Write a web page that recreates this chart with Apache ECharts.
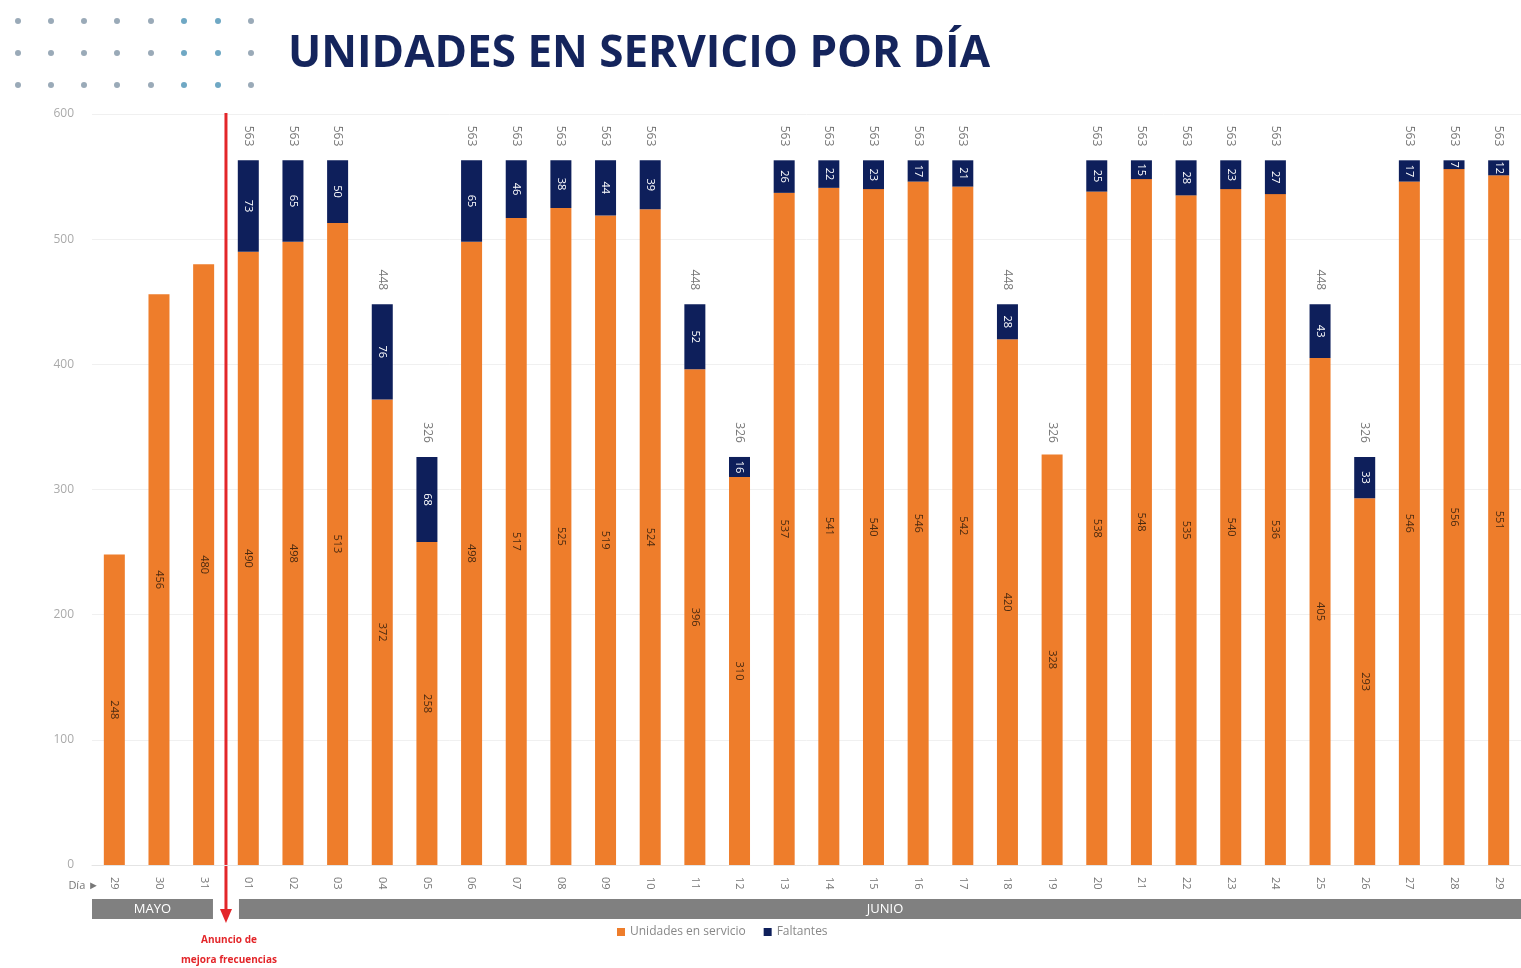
<!DOCTYPE html>
<html>
<head>
<meta charset="utf-8">
<title>Unidades en servicio por día</title>
<script src="https://cdn.jsdelivr.net/npm/echarts@6/dist/echarts.min.js"></script>
<style>
  html, body { margin: 0; padding: 0; background: #fff; }
  #main { width: 1521px; height: 968px; }
</style>
</head>
<body>
<div id="main"></div>
<script>
// dias del eje (29-31 mayo, 01-29 junio)
const dias = ['29', '30', '31', '01', '02', '03', '04', '05', '06', '07', '08', '09', '10', '11', '12', '13',
  '14', '15', '16', '17', '18', '19', '20', '21', '22', '23', '24', '25', '26', '27', '28', '29'];
const meses = ['MAYO', 'MAYO', 'MAYO', 'JUNIO', 'JUNIO', 'JUNIO', 'JUNIO', 'JUNIO', 'JUNIO', 'JUNIO', 'JUNIO',
  'JUNIO', 'JUNIO', 'JUNIO', 'JUNIO', 'JUNIO', 'JUNIO', 'JUNIO', 'JUNIO', 'JUNIO', 'JUNIO', 'JUNIO', 'JUNIO',
  'JUNIO', 'JUNIO', 'JUNIO', 'JUNIO', 'JUNIO', 'JUNIO', 'JUNIO', 'JUNIO', 'JUNIO'];
const enServicio = [248, 456, 480, 490, 498, 513, 372, 258, 498, 517, 525, 519, 524, 396, 310, 537,
  541, 540, 546, 542, 420, 328, 538, 548, 535, 540, 536, 405, 293, 546, 556, 551];
const faltantes = [0, 0, 0, 73, 65, 50, 76, 68, 65, 46, 38, 44, 39, 52, 16, 26,
  22, 23, 17, 21, 28, 0, 25, 15, 28, 23, 27, 43, 33, 17, 7, 12];
const programadas = [null, null, null, 563, 563, 563, 448, 326, 563, 563, 563, 563, 563, 448, 326, 563,
  563, 563, 563, 563, 448, 326, 563, 563, 563, 563, 563, 448, 326, 563, 563, 563];
const yTicks = [0, 100, 200, 300, 400, 500, 600];

const ORANGE = '#EE7D2B';
const NAVY = '#0E1F5B';

const chartDom = document.getElementById('main');
const myChart = echarts.init(chartDom);

const option = {
  animation: false,
  backgroundColor: '#fff',
  title: {
    text: 'UNIDADES EN SERVICIO POR DÍA',
    left: 283,
    top: 27,
    textStyle: { fontFamily: 'Open Sans', fontWeight: 'bold', fontSize: 44, color: '#14245C' }
  },
  legend: {
    data: ['Unidades en servicio', 'Faltantes'],
    left: 612,
    top: 921,
    itemWidth: 8,
    itemHeight: 8,
    itemGap: 18,
    icon: 'rect',
    textStyle: { fontFamily: 'Open Sans', fontSize: 12, color: '#888' }
  },
  grid: { left: 92, top: 114, width: 1437, bottom: 103 },
  xAxis: {
    type: 'category',
    data: dias,
    axisLine: { lineStyle: { color: '#e4e4e4' } },
    axisTick: { show: false },
    axisLabel: { rotate: -90, fontSize: 11, color: '#777', margin: 12, fontFamily: 'Open Sans' }
  },
  yAxis: {
    type: 'value',
    min: yTicks[0],
    max: yTicks[yTicks.length - 1],
    interval: 100,
    axisLabel: { fontSize: 12, color: '#aaa', margin: 18, fontFamily: 'Open Sans' },
    splitLine: { lineStyle: { color: '#f0f0f0' } },
    axisLine: { show: false },
    axisTick: { show: false }
  },
  series: [
    {
      name: 'Unidades en servicio',
      type: 'bar',
      stack: 'total',
      barWidth: 21,
      data: enServicio,
      itemStyle: { color: ORANGE },
      label: {
        show: true,
        position: 'inside',
        rotate: -90,
        fontSize: 11,
        color: '#4a2a10',
        fontFamily: 'Open Sans'
      }
    },
    {
      name: 'Faltantes',
      type: 'bar',
      stack: 'total',
      barWidth: 21,
      data: faltantes,
      itemStyle: { color: NAVY },
      label: {
        show: true,
        position: 'inside',
        rotate: -90,
        fontSize: 11,
        color: '#fff',
        fontFamily: 'Open Sans',
        formatter: p => (p.value > 0 ? p.value : '')
      }
    },
    {
      name: 'Programadas',
      type: 'scatter',
      data: programadas,
      symbolSize: 0.1,
      itemStyle: { color: 'rgba(0,0,0,0)' },
      label: {
        show: true,
        position: 'top',
        distance: 14,
        rotate: -90,
        align: 'right',
        verticalAlign: 'middle',
        fontSize: 12,
        color: '#555',
        fontFamily: 'Open Sans',
        formatter: p => (p.value == null ? '' : p.value)
      }
    }
  ]
};

myChart.setOption(option);

// banda de meses, flecha roja y adornos, a partir de las posiciones del eje
const step = myChart.convertToPixel({ xAxisIndex: 0 }, 1) - myChart.convertToPixel({ xAxisIndex: 0 }, 0);
const xLeft = i => myChart.convertToPixel({ xAxisIndex: 0 }, i) - step / 2;
const yTop = myChart.convertToPixel({ yAxisIndex: 0 }, 600);
const yZero = myChart.convertToPixel({ yAxisIndex: 0 }, 0);

const graphics = [];
const firstJun = meses.indexOf('JUNIO');
const monthRanges = [
  { name: 'MAYO', x0: xLeft(0), x1: xLeft(firstJun) - 13 },
  { name: 'JUNIO', x0: xLeft(firstJun) + 13, x1: xLeft(meses.length) }
];
monthRanges.forEach(m => {
  graphics.push({
    type: 'rect',
    shape: { x: m.x0, y: yZero + 34, width: m.x1 - m.x0, height: 20 },
    style: { fill: '#808080' }
  });
  graphics.push({
    type: 'text',
    x: m.name === 'MAYO' ? (m.x0 + m.x1) / 2 : 885,
    y: yZero + 44,
    style: {
      text: m.name, fill: '#fff', fontSize: 13, fontFamily: 'Open Sans',
      align: 'center', verticalAlign: 'middle'
    }
  });
});

// "Día ►"
graphics.push({
  type: 'text',
  x: 99,
  y: yZero + 21,
  style: { text: 'Día ►', fill: '#777', fontSize: 11, fontFamily: 'Open Sans', align: 'right', verticalAlign: 'middle' }
});

// flecha del anuncio
const xArrow = xLeft(firstJun);
graphics.push({
  type: 'line',
  shape: { x1: xArrow, y1: yTop - 1, x2: xArrow, y2: yZero + 46 },
  style: { stroke: '#E3262A', lineWidth: 3 }
});
graphics.push({
  type: 'polygon',
  shape: { points: [[xArrow - 6, yZero + 44], [xArrow + 6, yZero + 44], [xArrow, yZero + 58]] },
  style: { fill: '#E3262A' }
});
graphics.push({
  type: 'text',
  x: xArrow + 3,
  y: yZero + 85,
  style: {
    text: 'Anuncio de\nmejora frecuencias', fill: '#E3262A', fontSize: 10, fontWeight: 'bold',
    fontFamily: 'Open Sans', align: 'center', verticalAlign: 'middle', lineHeight: 20
  }
});

// puntos decorativos del encabezado
const dotCols = [18, 51, 84, 117, 151, 184, 218, 251];
const dotRows = [21, 53, 85];
dotRows.forEach(cy => {
  dotCols.forEach((cx, j) => {
    graphics.push({
      type: 'circle',
      shape: { cx: cx, cy: cy, r: 3 },
      style: { fill: (j === 5 || j === 6) ? '#6FA8C4' : '#9AAAB8' }
    });
  });
});

myChart.setOption({ graphic: graphics });
</script>
</body>
</html>
